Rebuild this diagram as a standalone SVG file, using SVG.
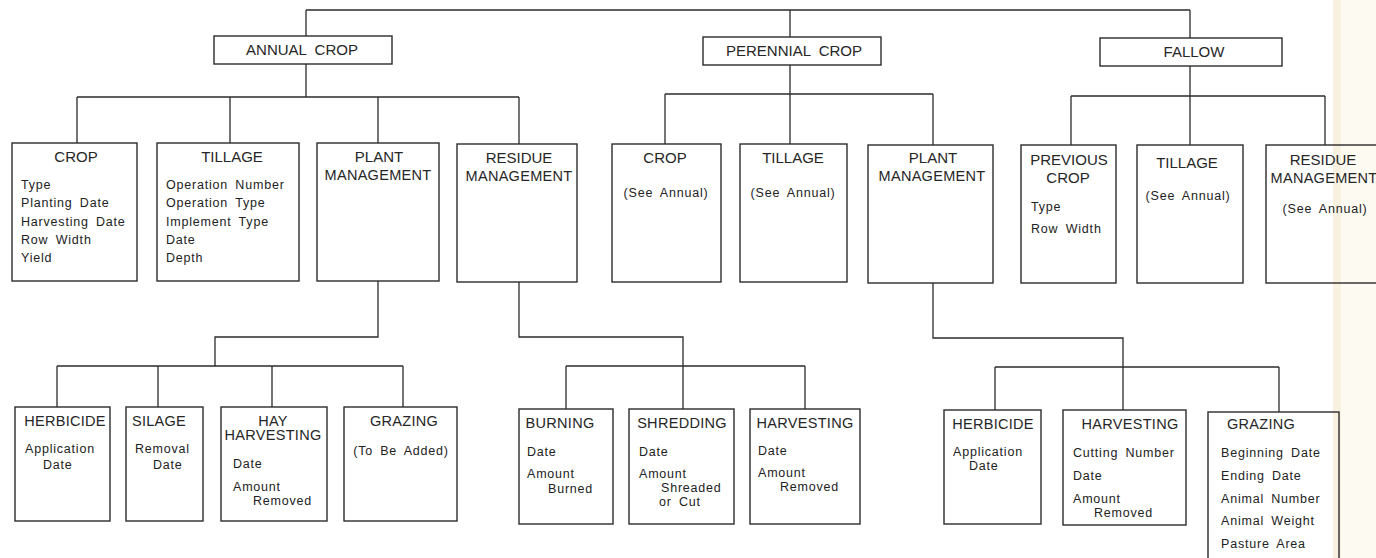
<svg xmlns="http://www.w3.org/2000/svg" width="1376" height="558" viewBox="0 0 1376 558">
<style>
.box{fill:none;stroke:#2b2b2b;stroke-width:1.4}
.ln{fill:none;stroke:#2b2b2b;stroke-width:1.3}
.t{font-family:"Liberation Sans",Arial,sans-serif;font-size:15px;fill:#262626;text-anchor:middle}
.h{font-family:"Liberation Sans",Arial,sans-serif;font-size:14.5px;fill:#262626;text-anchor:middle;letter-spacing:0.3px}
.b{font-family:"Liberation Sans",Arial,sans-serif;font-size:12.5px;fill:#222;letter-spacing:0.8px;word-spacing:3px}
.bm{font-family:"Liberation Sans",Arial,sans-serif;font-size:12.5px;fill:#222;letter-spacing:0.8px;word-spacing:3px;text-anchor:middle}
</style>
<rect x="0" y="0" width="1376" height="558" fill="#ffffff"/>
<rect x="1333" y="0" width="43" height="558" fill="#fdfaf2"/>
<rect x="1333" y="0" width="8" height="558" fill="#f9f1e0"/>
<g id="connectors">
<path class="ln" d="M306 10H1190M306 10V36M790 10V37M1190 10V38"/>
<path class="ln" d="M306 64V97M77 97H519M77 97V143M230 97V143M378 97V143M519 97V144"/>
<path class="ln" d="M790 65V94M665 94H933M665 94V144M790 94V144M933 94V145"/>
<path class="ln" d="M1190 66V96M1071 96H1325M1071 96V145M1190 96V145M1325 96V145"/>
<path class="ln" d="M378 281V337H215V366M57 366H403M57 366V407M158 366V407M272 366V407M403 366V407"/>
<path class="ln" d="M519 282V337H683V366M566 366H805M566 366V409M683 366V409M805 366V409"/>
<path class="ln" d="M933 283V338H1123V367M995 367H1279M995 367V410M1123 367V410M1279 367V412"/>
</g>
<g id="annual-crop"><rect class="box" x="214" y="36" width="178" height="28"/><text class="t" x="302" y="55" word-spacing="4">ANNUAL CROP</text></g>
<g id="perennial-crop"><rect class="box" x="703" y="37" width="178" height="28"/><text class="t" x="794" y="56" word-spacing="4">PERENNIAL CROP</text></g>
<g id="fallow"><rect class="box" x="1100" y="38" width="182" height="28"/><text class="t" x="1194" y="57">FALLOW</text></g>

<g id="a-crop"><rect class="box" x="12" y="143" width="125" height="138"/><text class="t" x="76" y="162">CROP</text>
<text class="b" x="21" y="189">Type</text><text class="b" x="21" y="207">Planting Date</text><text class="b" x="21" y="226">Harvesting Date</text><text class="b" x="21" y="244">Row Width</text><text class="b" x="21" y="262">Yield</text></g>
<g id="a-tillage"><rect class="box" x="157" y="143" width="142" height="138"/><text class="t" x="232" y="162">TILLAGE</text>
<text class="b" x="166" y="189">Operation Number</text><text class="b" x="166" y="207">Operation Type</text><text class="b" x="166" y="226">Implement Type</text><text class="b" x="166" y="244">Date</text><text class="b" x="166" y="262">Depth</text></g>
<g id="a-plant"><rect class="box" x="317" y="143" width="122" height="138"/><text class="t" x="379" y="162">PLANT</text><text class="h" x="378" y="180">MANAGEMENT</text></g>
<g id="a-residue"><rect class="box" x="457" y="144" width="120" height="138"/><text class="t" x="519" y="163">RESIDUE</text><text class="h" x="519" y="181">MANAGEMENT</text></g>

<g id="p-crop"><rect class="box" x="612" y="144" width="109" height="138"/><text class="t" x="665" y="163">CROP</text><text class="bm" x="666" y="197">(See Annual)</text></g>
<g id="p-tillage"><rect class="box" x="740" y="144" width="107" height="138"/><text class="t" x="793" y="163">TILLAGE</text><text class="bm" x="793" y="197">(See Annual)</text></g>
<g id="p-plant"><rect class="box" x="868" y="145" width="125" height="138"/><text class="t" x="933" y="163">PLANT</text><text class="h" x="932" y="181">MANAGEMENT</text></g>

<g id="f-prevcrop"><rect class="box" x="1021" y="145" width="95" height="138"/><text class="t" x="1069" y="165">PREVIOUS</text><text class="t" x="1068" y="183">CROP</text>
<text class="b" x="1031" y="211">Type</text><text class="b" x="1031" y="233">Row Width</text></g>
<g id="f-tillage"><rect class="box" x="1137" y="145" width="106" height="138"/><text class="t" x="1187" y="168">TILLAGE</text><text class="bm" x="1188" y="200">(See Annual)</text></g>
<g id="f-residue"><rect class="box" x="1266" y="145" width="124" height="138"/><text class="t" x="1323" y="165">RESIDUE</text><text class="h" x="1324" y="183">MANAGEMENT</text><text class="bm" x="1325" y="213">(See Annual)</text></g>

<g id="a-herbicide"><rect class="box" x="15" y="407" width="95" height="114"/><text class="h" x="65" y="426">HERBICIDE</text>
<text class="b" x="25" y="453">Application</text><text class="b" x="43" y="469">Date</text></g>
<g id="a-silage"><rect class="box" x="126" y="407" width="77" height="114"/><text class="h" x="159" y="426">SILAGE</text>
<text class="b" x="135" y="453">Removal</text><text class="b" x="153" y="469">Date</text></g>
<g id="a-hay"><rect class="box" x="221" y="407" width="106" height="114"/><text class="h" x="273" y="426">HAY</text><text class="h" x="273" y="440">HARVESTING</text>
<text class="b" x="233" y="468">Date</text><text class="b" x="233" y="491">Amount</text><text class="b" x="253" y="505">Removed</text></g>
<g id="a-grazing"><rect class="box" x="344" y="407" width="113" height="114"/><text class="h" x="404" y="426">GRAZING</text><text class="bm" x="401" y="455">(To Be Added)</text></g>

<g id="r-burning"><rect class="box" x="519" y="409" width="94" height="115"/><text class="h" x="560" y="428">BURNING</text>
<text class="b" x="527" y="456">Date</text><text class="b" x="527" y="478">Amount</text><text class="b" x="548" y="493">Burned</text></g>
<g id="r-shredding"><rect class="box" x="629" y="409" width="105" height="115"/><text class="h" x="682" y="428">SHREDDING</text>
<text class="b" x="639" y="456">Date</text><text class="b" x="639" y="478">Amount</text><text class="b" x="661" y="492">Shreaded</text><text class="b" x="659" y="506">or Cut</text></g>
<g id="r-harvesting"><rect class="box" x="750" y="409" width="110" height="115"/><text class="h" x="805" y="428">HARVESTING</text>
<text class="b" x="758" y="455">Date</text><text class="b" x="758" y="477">Amount</text><text class="b" x="780" y="491">Removed</text></g>

<g id="p-herbicide"><rect class="box" x="944" y="410" width="97" height="114"/><text class="h" x="993" y="429">HERBICIDE</text>
<text class="b" x="953" y="456">Application</text><text class="b" x="969" y="470">Date</text></g>
<g id="p-harvesting"><rect class="box" x="1063" y="410" width="123" height="115"/><text class="h" x="1130" y="429">HARVESTING</text>
<text class="b" x="1073" y="457">Cutting Number</text><text class="b" x="1073" y="480">Date</text><text class="b" x="1073" y="503">Amount</text><text class="b" x="1094" y="517">Removed</text></g>
<g id="p-grazing"><rect class="box" x="1208" y="412" width="131" height="160"/><text class="h" x="1261" y="429">GRAZING</text>
<text class="b" x="1221" y="457">Beginning Date</text><text class="b" x="1221" y="480">Ending Date</text><text class="b" x="1221" y="503">Animal Number</text><text class="b" x="1221" y="525">Animal Weight</text><text class="b" x="1221" y="548">Pasture Area</text></g>
</svg>
